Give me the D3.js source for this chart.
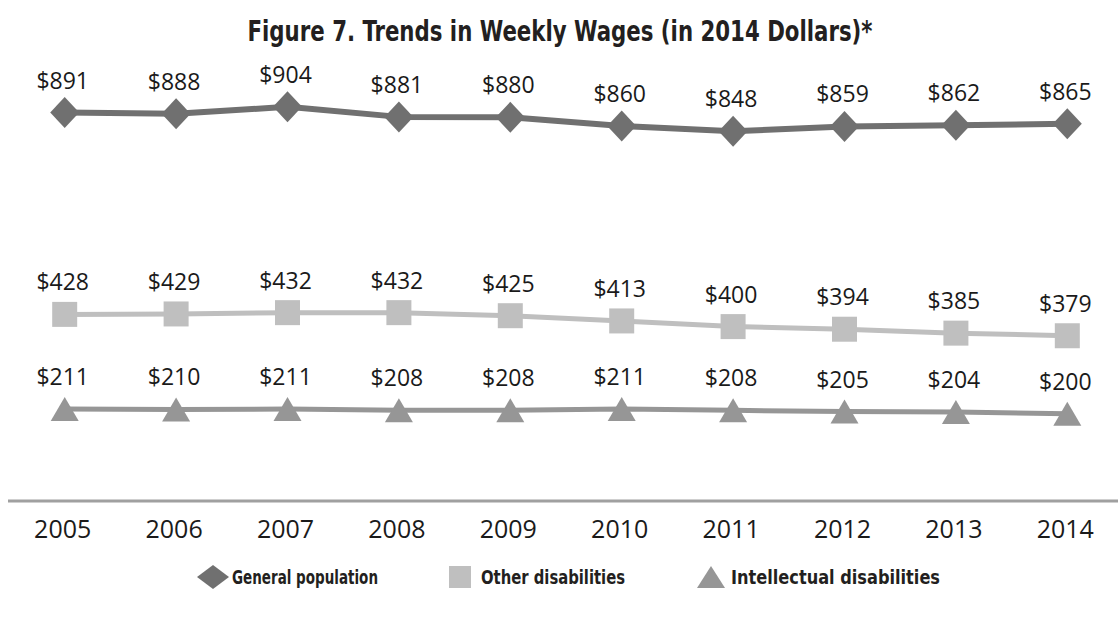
<!DOCTYPE html>
<html>
<head>
<meta charset="utf-8">
<script src="https://cdn.jsdelivr.net/npm/d3@7"></script>
<style>
  body { margin: 0; background: #fff; }
  svg { display: block; }
</style>
</head>
<body>
<script>
// data
var years = [2005, 2006, 2007, 2008, 2009, 2010, 2011, 2012, 2013, 2014];
var generalPopulation = [891, 888, 904, 881, 880, 860, 848, 859, 862, 865];
var otherDisabilities = [428, 429, 432, 432, 425, 413, 400, 394, 385, 379];
var intellectualDisabilities = [211, 210, 211, 208, 208, 211, 208, 205, 204, 200];
var seriesNames = ["General population", "Other disabilities", "Intellectual disabilities"];
var titleText = "Figure 7. Trends in Weekly Wages (in 2014 Dollars)*";

var W = 1118, H = 618;
var condensed = "'Liberation Sans Narrow', 'DejaVu Sans Condensed', sans-serif";
var plain = "'Open Sans', 'Noto Sans', sans-serif";

var svg = d3.select("body")
    .append("svg")
    .attr("width", W)
    .attr("height", H);

var x = d3.scalePoint()
    .domain(years)
    .range([9, 1123])
    .padding(0.5);

var y = d3.scaleLinear()
    .domain([0, 1000])
    .range([501, 65]);

// marker shapes
function diamond(rx, ry) {
    return "M0," + (-ry) + "L" + rx + ",0L0," + ry + "L" + (-rx) + ",0Z";
}
function square(s) {
    var h = s / 2;
    return "M" + (-h) + "," + (-h) + "H" + h + "V" + h + "H" + (-h) + "Z";
}
function triangle(w, h) {
    return "M0," + (-h / 2) + "L" + (w / 2) + "," + (h / 2) + "L" + (-w / 2) + "," + (h / 2) + "Z";
}

var series = [
    { name: seriesNames[0], values: generalPopulation, color: "#707070", width: 6, shape: diamond(14.5, 15.5) },
    { name: seriesNames[1], values: otherDisabilities, color: "#bfbfbf", width: 5, shape: square(25) },
    { name: seriesNames[2], values: intellectualDisabilities, color: "#969696", width: 5, shape: triangle(28, 24) }
];

// title
svg.append("text")
    .attr("x", 560)
    .attr("y", 41)
    .attr("text-anchor", "middle")
    .attr("font-family", condensed)
    .attr("font-weight", "bold")
    .attr("font-size", 28)
    .attr("fill", "#231f20")
    .attr("textLength", 625)
    .attr("lengthAdjust", "spacingAndGlyphs")
    .text(titleText);

// x axis baseline
svg.append("line")
    .attr("x1", 8)
    .attr("x2", W)
    .attr("y1", y(0))
    .attr("y2", y(0))
    .attr("stroke", "#a0a0a0")
    .attr("stroke-width", 3);

svg.append("g")
    .selectAll("text")
    .data(years)
    .enter()
    .append("text")
    .attr("x", d => x(d) - 2)
    .attr("y", 538)
    .attr("text-anchor", "middle")
    .attr("font-family", plain)
    .attr("font-size", 25)
    .attr("fill", "#1a1a1a")
    .text(d => d);

var line = d3.line()
    .x((d, i) => x(years[i]))
    .y(d => y(d));

var groups = svg.selectAll(".series")
    .data(series)
    .enter()
    .append("g")
    .attr("class", "series");

groups.append("path")
    .attr("d", d => line(d.values))
    .attr("fill", "none")
    .attr("stroke", d => d.color)
    .attr("stroke-width", d => d.width)
    .attr("stroke-linejoin", "round");

groups.each(function (s) {
    var g = d3.select(this);
    g.selectAll(".marker")
        .data(s.values)
        .enter()
        .append("path")
        .attr("class", "marker")
        .attr("transform", (d, i) => "translate(" + x(years[i]) + "," + y(d) + ")")
        .attr("d", s.shape)
        .attr("fill", s.color);

    g.selectAll(".label")
        .data(s.values)
        .enter()
        .append("text")
        .attr("class", "label")
        .attr("x", (d, i) => x(years[i]) - 2)
        .attr("y", d => y(d) - 24)
        .attr("text-anchor", "middle")
        .attr("font-family", plain)
        .attr("font-size", 23)
        .attr("fill", "#1a1a1a")
        .text(d => "$" + d);
});

// legend
var legendItems = [
    { mx: 213, tx: 232, tw: 146, shape: diamond(16, 12) },
    { mx: 460, tx: 481, tw: 144, shape: square(22) },
    { mx: 711, tx: 731, tw: 209, shape: triangle(28, 22) }
];

var legend = svg.append("g")
    .selectAll("g")
    .data(series)
    .enter()
    .append("g");

legend.append("path")
    .attr("transform", (d, i) => "translate(" + legendItems[i].mx + ",577)")
    .attr("d", (d, i) => legendItems[i].shape)
    .attr("fill", d => d.color);

legend.append("text")
    .attr("x", (d, i) => legendItems[i].tx)
    .attr("y", 584)
    .attr("font-family", condensed)
    .attr("font-weight", "bold")
    .attr("font-size", 20)
    .attr("fill", "#231f20")
    .attr("textLength", (d, i) => legendItems[i].tw)
    .attr("lengthAdjust", "spacingAndGlyphs")
    .text(d => d.name);
</script>
</body>
</html>
